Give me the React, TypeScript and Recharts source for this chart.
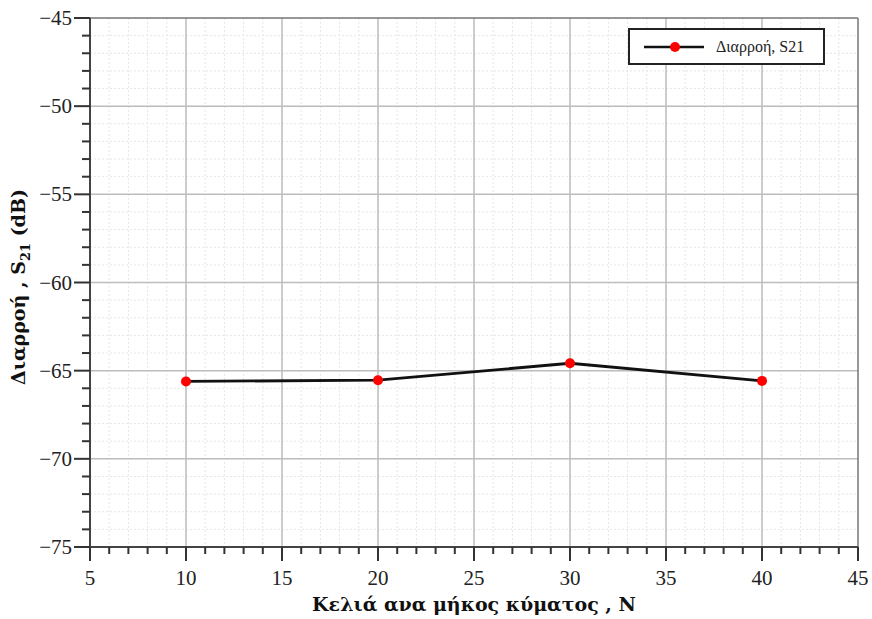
import { LineChart, Line, XAxis, YAxis, CartesianGrid, ReferenceLine, Label } from "recharts";

// cells per wavelength vs leakage S21
const cells = [10, 20, 30, 40];
const leakage = [-65.61, -65.54, -64.58, -65.58];

const xTicks = Array.from({ length: 41 }, (_, i) => 5 + i);
const yTicks = Array.from({ length: 31 }, (_, i) => -75 + i);
const xMajor = [10, 15, 20, 25, 30, 35, 40];
const yMajor = [-70, -65, -60, -55, -50];

const data = cells.map((n, i) => ({ n, s21: leakage[i] }));

const FONT = "'Liberation Serif', 'DejaVu Serif', serif";
const TITLE_FONT = "'DejaVu Serif', serif";
const fmt = (v: number) => (v < 0 ? "\u2212" + Math.abs(v) : String(v));

function YTick(props: any) {
  const { x, y, payload } = props;
  const major = payload.value % 5 === 0;
  return (
    <g>
      <line x1={x - (major ? 16 : 8)} y1={y} x2={x} y2={y} stroke="#333" strokeWidth={2} />
      {major && (
        <text x={x - 18} y={y} dy={7} textAnchor="end" fontSize={21} fontFamily={FONT} fill="#222">
          {fmt(payload.value)}
        </text>
      )}
    </g>
  );
}

function XTick(props: any) {
  const { x, y, payload } = props;
  const major = payload.value % 5 === 0;
  return (
    <g>
      <line x1={x} y1={y} x2={x} y2={y + (major ? 14 : 7)} stroke="#333" strokeWidth={2} />
      {major && (
        <text x={x} y={y + 38} textAnchor="middle" fontSize={21} fontFamily={FONT} fill="#222">
          {fmt(payload.value)}
        </text>
      )}
    </g>
  );
}

function LegendBox() {
  return (
    <div
      style={{
        position: "absolute",
        left: 628,
        top: 28,
        width: 193,
        height: 33,
        border: "2px solid #222",
        background: "#fff",
        display: "flex",
        alignItems: "center",
        fontFamily: FONT,
        fontSize: 16,
        color: "#222",
      }}
    >
      <svg width={70} height={20} style={{ marginLeft: 14 }}>
        <line x1={0} y1={10} x2={60} y2={10} stroke="#111" strokeWidth={2.5} />
        <circle cx={31} cy={10} r={5} fill="#f00" />
      </svg>
      <span style={{ marginLeft: 2 }}>Διαρροή, S21</span>
    </div>
  );
}

export default function App() {
  return (
    <div style={{ position: "absolute", left: 0, top: 0, width: 872, height: 619, background: "#fff" }}>
      <LineChart width={872} height={619} data={data} margin={{ top: 18, right: 14, bottom: 0, left: 0 }}>
        <CartesianGrid stroke="#e6e6e6" strokeDasharray="2 2" strokeWidth={1} />
        {xMajor.map((v) => (
          <ReferenceLine key={"x" + v} x={v} stroke="#bdbdbd" strokeWidth={1.5} />
        ))}
        {yMajor.map((v) => (
          <ReferenceLine key={"y" + v} y={v} stroke="#bdbdbd" strokeWidth={1.5} />
        ))}
        <ReferenceLine y={-45} stroke="#777" strokeWidth={1.5} />
        <ReferenceLine x={45} stroke="#777" strokeWidth={1.5} />
        <XAxis
          dataKey="n"
          type="number"
          domain={[5, 45]}
          ticks={xTicks}
          interval={0}
          height={72}
          tickSize={0}
          tickMargin={0}
          tickLine={false}
          axisLine={{ stroke: "#444", strokeWidth: 2 }}
          tick={<XTick />}
          allowDataOverflow
        >
          <Label
            content={() => (
              <text x={474} y={611} textAnchor="middle" fontSize={19} fontWeight="bold" fontFamily={TITLE_FONT} fill="#111">
                Κελιά ανα μήκος κύματος , N
              </text>
            )}
          />
        </XAxis>
        <YAxis
          type="number"
          domain={[-75, -45]}
          ticks={yTicks}
          interval={0}
          width={90}
          tickSize={0}
          tickMargin={0}
          tickLine={false}
          axisLine={{ stroke: "#444", strokeWidth: 2 }}
          tick={<YTick />}
          allowDataOverflow
        >
          <Label
            content={() => (
              <text
                x={25}
                y={287}
                transform="rotate(-90 25 287)"
                textAnchor="middle"
                fontSize={19}
                fontWeight="bold"
                fontFamily={TITLE_FONT}
                fill="#111"
              >
                Διαρροή , S
                <tspan fontSize={13} dy={5}>21</tspan>
                <tspan dy={-5}> (dB)</tspan>
              </text>
            )}
          />
        </YAxis>
        <Line
          dataKey="s21"
          stroke="#111"
          strokeWidth={2.8}
          dot={{ r: 5, fill: "#f00", stroke: "#f00", strokeWidth: 0 }}
          activeDot={false}
          isAnimationActive={false}
        />
      </LineChart>
      <LegendBox />
    </div>
  );
}
